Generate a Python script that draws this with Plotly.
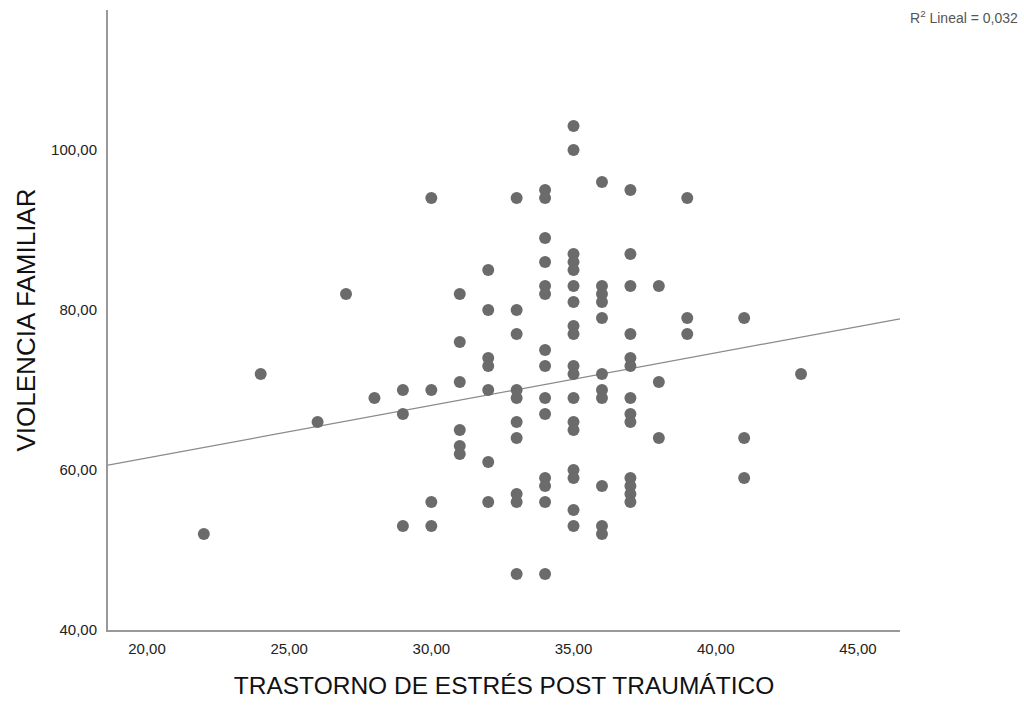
import plotly.graph_objects as go

# Data: x = TRASTORNO DE ESTRÉS POST TRAUMÁTICO, y = VIOLENCIA FAMILIAR
columns = {
    22: [52],
    24: [72],
    26: [66],
    27: [82],
    28: [69],
    29: [70, 67, 53],
    30: [94, 70, 56, 53],
    31: [82, 76, 71, 65, 63, 62],
    32: [85, 80, 74, 73, 70, 61, 56],
    33: [94, 80, 77, 70, 69, 66, 64, 57, 56, 47],
    34: [95, 94, 89, 86, 83, 82, 75, 73, 69, 67, 59, 58, 56, 47],
    35: [103, 100, 87, 86, 85, 83, 81, 78, 77, 73, 72, 69, 66, 65, 60, 59, 55, 53],
    36: [96, 83, 82, 81, 79, 72, 70, 69, 58, 53, 52],
    37: [95, 87, 83, 77, 74, 73, 69, 67, 66, 59, 58, 57, 56],
    38: [83, 71, 64],
    39: [94, 79, 77],
    41: [79, 64, 59],
    43: [72],
}
tept = [x for x, ys in columns.items() for _ in ys]
violencia = [y for ys in columns.values() for y in ys]

x_ticks = [20, 25, 30, 35, 40, 45]
x_tick_labels = ["20,00", "25,00", "30,00", "35,00", "40,00", "45,00"]
y_ticks = [40, 60, 80, 100]
y_tick_labels = ["40,00", "60,00", "80,00", "100,00"]
x_range = [18.63, 46.48]
y_range = [40, 117.5]
r2_text = "R<sup>2</sup> Lineal = 0,032"

# linear fit line as shown in the picture (intercept, slope)
fit_intercept = 48.36
fit_slope = 0.657
line_x = list(x_range)
line_y = [fit_intercept + fit_slope * v for v in line_x]

fig = go.Figure()
fig.add_trace(go.Scatter(
    x=line_x, y=line_y, mode="lines",
    line=dict(color="#8a8a8a", width=1.2),
    hoverinfo="skip", showlegend=False,
))
fig.add_trace(go.Scatter(
    x=tept, y=violencia, mode="markers",
    marker=dict(size=12, color="#6b6b6b", line=dict(width=0)),
    showlegend=False,
))

fig.update_layout(
    width=1024, height=709,
    margin=dict(l=108, r=124, t=10, b=79),
    paper_bgcolor="white", plot_bgcolor="white",
    font=dict(family="Liberation Sans, Arial, sans-serif", color="#222222"),
    xaxis=dict(
        range=x_range, tickvals=x_ticks, ticktext=x_tick_labels,
        showgrid=False, zeroline=False, showline=True,
        linecolor="#999999", linewidth=2, ticks="",
        ticklabelstandoff=4,
        tickfont=dict(size=15, color="#222222"),
        title=dict(text="TRASTORNO DE ESTRÉS POST TRAUMÁTICO",
                   font=dict(size=24.5, color="#111111"), standoff=21),
    ),
    yaxis=dict(
        range=y_range, tickvals=y_ticks, ticktext=y_tick_labels,
        showgrid=False, zeroline=False, showline=True,
        linecolor="#999999", linewidth=2, ticks="",
        ticklabelstandoff=6,
        tickfont=dict(size=15, color="#222222"),
        title=dict(text="VIOLENCIA FAMILIAR",
                   font=dict(size=26, color="#111111"), standoff=8),
    ),
    annotations=[dict(
        text=r2_text, x=1.1515, y=0.989, xref="paper", yref="paper",
        xanchor="right", yanchor="middle",
        showarrow=False, font=dict(size=14, color="#555555"),
    )],
)

fig.write_html(
    "out.html",
    config={"displayModeBar": False},
    post_script="document.body.style.margin='0px';document.body.style.overflow='hidden';",
)
